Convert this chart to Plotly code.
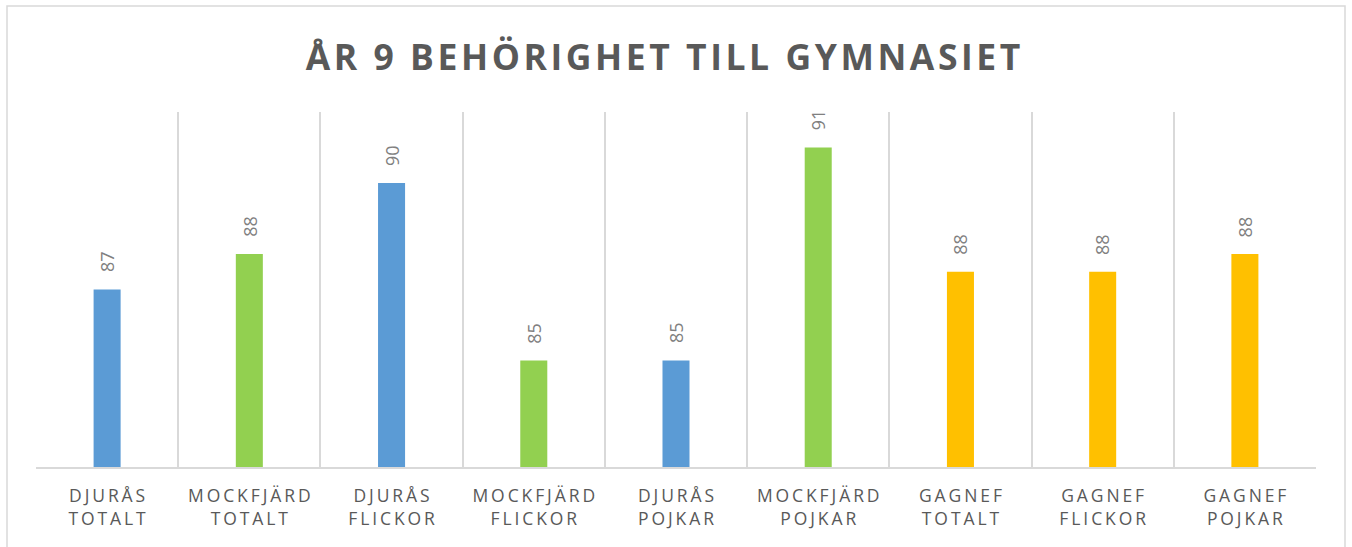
import plotly.graph_objects as go

categories = [
    "DJURÅS<br>TOTALT", "MOCKFJÄRD<br>TOTALT", "DJURÅS<br>FLICKOR",
    "MOCKFJÄRD<br>FLICKOR", "DJURÅS<br>POJKAR", "MOCKFJÄRD<br>POJKAR",
    "GAGNEF<br>TOTALT", "GAGNEF<br>FLICKOR", "GAGNEF<br>POJKAR",
]
values = [87, 88, 90, 85, 85, 91, 87.5, 87.5, 88]
bar_colors = ["#5B9BD5", "#92D050", "#5B9BD5", "#92D050", "#5B9BD5",
              "#92D050", "#FFC000", "#FFC000", "#FFC000"]
title_text = "ÅR 9 BEHÖRIGHET TILL GYMNASIET"
y_range = [82, 92]

HAIR = "\u200a"
THIN = "\u2009"


def spaced(s, sep):
    return "<br>".join(sep.join(list(line)) for line in s.split("<br>"))


tick_text = [spaced(c, THIN) for c in categories]
xs = list(range(len(categories)))

W, H = 1352, 547
L, R, T, B = 36, 36, 112, 80
PW, PH = W - L - R, H - T - B

fig = go.Figure()
fig.add_trace(go.Bar(
    x=xs, y=values, marker=dict(color=bar_colors, line=dict(width=0)),
    width=0.19, hoverinfo="skip",
))

for x, v in zip(xs, values):
    fig.add_annotation(
        x=x, y=v, text=f"{v:.0f}", textangle=-90, showarrow=False,
        yanchor="bottom", xanchor="center", yshift=15,
        font=dict(family="Open Sans", size=18, color="#808080"),
    )

fig.add_shape(type="rect", xref="paper", yref="paper",
              x0=-(L - 7) / PW, x1=1 + 29 / PW,
              y0=-0.5, y1=1 + (T - 6) / PH,
              line=dict(color="#D9D9D9", width=1.5), layer="below")

fig.update_layout(
    width=W, height=H,
    margin=dict(l=L, r=R, t=T, b=B),
    paper_bgcolor="white", plot_bgcolor="white",
    showlegend=False,
    title=dict(text=f"<b>{spaced(title_text, HAIR)}</b>", x=663 / W,
               xanchor="center", y=1 - 58 / H, yanchor="middle",
               yref="container",
               font=dict(family="Open Sans", size=35.5, color="#595959")),
    xaxis=dict(
        type="category", tickmode="array", tickvals=xs, ticktext=tick_text,
        tickson="boundaries", showgrid=True, gridcolor="#D9D9D9", gridwidth=1.5,
        showline=True, linecolor="#D9D9D9", linewidth=1.5,
        ticks="", ticklen=0, tickangle=0, ticklabelstandoff=12,
        tickfont=dict(family="Open Sans", size=17.5, color="#595959"),
        range=[-0.5, len(categories) - 0.5], zeroline=False,
    ),
    yaxis=dict(range=y_range, visible=False, showgrid=False, zeroline=False),
)

fig.write_html("out.html",
               config={"displayModeBar": False},
               post_script="document.body.style.margin='0';"
                           "document.body.style.overflow='hidden';")
